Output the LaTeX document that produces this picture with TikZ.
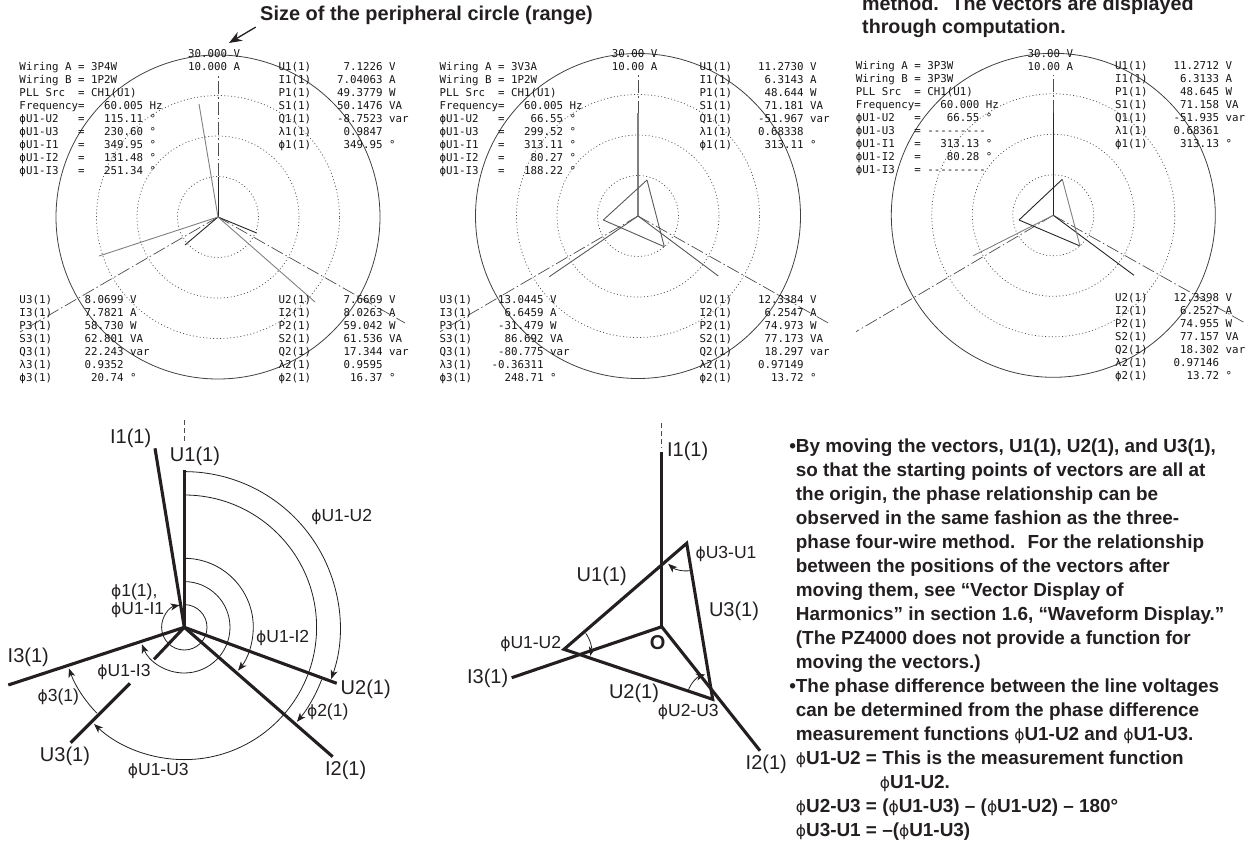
\documentclass[tikz,border=0pt]{standalone}
\usepackage{fontspec}
\usepackage{xcolor}
\setmainfont{Liberation Sans}
\newfontfamily\dispfont{DejaVu Sans Mono}
\newfontfamily\phifont{DejaVu Sans}
\newcommand{\ph}{{\phifont\mdseries\fontsize{15.5}{15.5}\selectfont ϕ}}
\definecolor{inkblack}{HTML}{231F20}
\definecolor{dispgray}{HTML}{141414}
\usetikzlibrary{arrows.meta,positioning}

\begin{document}
\begin{tikzpicture}[x=1pt, y=1pt,
  disptext/.style  = {anchor=base west, inner sep=0pt, text=dispgray, yshift=-3.9pt,
                      font=\dispfont\fontsize{10.8}{13}\selectfont},
  biglabel/.style  = {inner sep=0pt, text=inkblack, font=\fontsize{20}{22}\selectfont},
  smalllabel/.style= {inner sep=0pt, text=inkblack, font=\fontsize{17.5}{19}\selectfont},
  notetext/.style  = {anchor=north west, inner sep=0pt, align=left, text=inkblack,
                      font=\bfseries\fontsize{18.9}{24}\selectfont},
  outercirc/.style = {draw=black!75, line width=0.8pt},
  dotcirc/.style   = {draw=black!70, line width=0.7pt, dash pattern=on 1pt off 2.4pt},
  axisline/.style  = {draw=black!70, line width=0.7pt, dash pattern=on 13pt off 3pt on 1.5pt off 3pt},
  darkvec/.style   = {draw=black!85, line width=0.9pt},
  grayvec/.style   = {draw=black!50, line width=0.9pt},
  thickvec/.style  = {draw=inkblack, line width=3.1pt},
  anglearc/.style  = {draw=inkblack, line width=0.8pt},
  anglearr/.style  = {anglearc, -{Stealth[length=9pt,width=7pt,inset=2.5pt]}},
  sizearr/.style   = {draw=inkblack, line width=1.3pt, -{Stealth[length=13pt,width=10pt]}},
]
\useasboundingbox (0,0) rectangle (1250,-843);

%% ── Notes above the panels ───────────────────────────────────────────────────
\node[notetext, anchor=west, font=\bfseries\fontsize{19.95}{22}\selectfont] (sizelabel) at (260,-15)
  {Size of the peripheral circle (range)};
\coordinate (rangetip) at (229,-43);
\draw[sizearr, shorten <=5pt] (sizelabel.south west) -- (rangetip);
\node[notetext, font=\bfseries\fontsize{19.7}{22.6}\selectfont] (compnote) at (862,3.5)
  {method.~ The vectors are displayed\\through computation.};

%% ── Panel A (3P4W)  centre 218,-217 ──────────────────────────────────────────
\coordinate (oA) at (218,-217);
\foreach \rad in {40.5,81,121.5} \draw[dotcirc] (oA) circle[radius=\rad];
\draw[outercirc] (oA) circle[radius=162];
\coordinate (axAn) at (218,-75);
\coordinate (axAr) at (405,-323);
\coordinate (axAl) at (20,-332);
\draw[axisline] (oA) -- (axAn);
\draw[axisline] (oA) -- (axAr);
\draw[axisline] (oA) -- (axAl);
\coordinate (uoneA) at (218,-177);
\coordinate (utwoA) at (256.7,-233);
\coordinate (uthrA) at (185,-245);
\coordinate (ioneA) at (199,-104);
\coordinate (itwoA) at (315,-302);
\coordinate (ithrA) at (99,-256);
\draw[darkvec] (oA) -- (uoneA);
\draw[darkvec] (oA) -- (utwoA);
\draw[darkvec] (oA) -- (uthrA);
\draw[grayvec] (oA) -- (ioneA);
\draw[grayvec] (oA) -- (itwoA);
\draw[grayvec] (oA) -- (ithrA);

\foreach \txt [count=\i] in {30.000~V,10.000~A}
  \node[disptext] (rngA\i) at (188,{-53.6-13*(\i-1)}) {\txt};
\foreach \txt [count=\i] in {Wiring~A~=~3P4W,Wiring~B~=~1P2W,PLL~Src~~=~CH1(U1),
    Frequency=~~~60.005~Hz,ϕU1-U2~~~=~~~115.11~°,ϕU1-U3~~~=~~~230.60~°,
    ϕU1-I1~~~=~~~349.95~°,ϕU1-I2~~~=~~~131.48~°,ϕU1-I3~~~=~~~251.34~°}
  \node[disptext] (setA\i) at (19.3,{-66.7-13*(\i-1)}) {\txt};
\foreach \txt [count=\i] in {U1(1)~~~~~7.1226~V,I1(1)~~~~7.04063~A,P1(1)~~~~49.3779~W,
    S1(1)~~~~50.1476~VA,Q1(1)~~~~-8.7523~var,λ1(1)~~~~~0.9847,ϕ1(1)~~~~~349.95~°}
  \node[disptext] (oneA\i) at (278.3,{-66.7-13*(\i-1)}) {\txt};
\foreach \txt [count=\i] in {U3(1)~~~~~8.0699~V,I3(1)~~~~~7.7821~A,P3(1)~~~~~58.730~W,
    S3(1)~~~~~62.801~VA,Q3(1)~~~~~22.243~var,λ3(1)~~~~~0.9352,ϕ3(1)~~~~~~20.74~°}
  \node[disptext] (thrA\i) at (19.3,{-300-13*(\i-1)}) {\txt};
\foreach \txt [count=\i] in {U2(1)~~~~~7.6669~V,I2(1)~~~~~8.0263~A,P2(1)~~~~~59.042~W,
    S2(1)~~~~~61.536~VA,Q2(1)~~~~~17.344~var,λ2(1)~~~~~0.9595,ϕ2(1)~~~~~~16.37~°}
  \node[disptext] (twoA\i) at (278.3,{-300-13*(\i-1)}) {\txt};

%% ── Panel B (3V3A)  centre 638,-216 ──────────────────────────────────────────
\coordinate (oB) at (638,-216);
\foreach \rad in {40.5,81,121.5} \draw[dotcirc] (oB) circle[radius=\rad];
\draw[outercirc] (oB) circle[radius=162.5];
\coordinate (axBn) at (638,-75);
\coordinate (axBr) at (828.3,-323);
\coordinate (axBl) at (440,-331.7);
\draw[axisline] (oB) -- (axBn);
\draw[axisline] (oB) -- (axBr);
\draw[axisline] (oB) -- (axBl);
\coordinate (ioneB) at (638,-113);
\coordinate (itwoB) at (718.3,-276);
\coordinate (ithrB) at (549.3,-276.7);
\coordinate (triBa) at (647,-180);
\coordinate (triBb) at (664.3,-246.7);
\coordinate (triBc) at (603.3,-220);
\draw[grayvec, line width=1.1pt] (oB) -- (ioneB);
\draw[darkvec, draw=black!65] (oB) -- (itwoB);
\draw[darkvec, draw=black!65] (oB) -- (ithrB);
\draw[darkvec, draw=black!65] (triBa) -- (triBc);
\draw[darkvec, draw=black!65] (triBc) -- (triBb);
\draw[darkvec, draw=black!65] (triBb) -- (triBa);

\foreach \txt [count=\i] in {30.00~V,10.00~A}
  \node[disptext] (rngB\i) at (611.7,{-54-13*(\i-1)}) {\txt};
\foreach \txt [count=\i] in {Wiring~A~=~3V3A,Wiring~B~=~1P2W,PLL~Src~~=~CH1(U1),
    Frequency=~~~60.005~Hz,ϕU1-U2~~~=~~~~66.55~°,ϕU1-U3~~~=~~~299.52~°,
    ϕU1-I1~~~=~~~313.11~°,ϕU1-I2~~~=~~~~80.27~°,ϕU1-I3~~~=~~~188.22~°}
  \node[disptext] (setB\i) at (439.3,{-66.2-13*(\i-1)}) {\txt};
\foreach \txt [count=\i] in {U1(1)~~~~11.2730~V,I1(1)~~~~~6.3143~A,P1(1)~~~~~48.644~W,
    S1(1)~~~~~71.181~VA,Q1(1)~~~~-51.967~var,λ1(1)~~~~0.68338,ϕ1(1)~~~~~313.11~°}
  \node[disptext] (oneB\i) at (699.3,{-66.2-13*(\i-1)}) {\txt};
\foreach \txt [count=\i] in {U3(1)~~~~13.0445~V,I3(1)~~~~~6.6459~A,P3(1)~~~~-31.479~W,
    S3(1)~~~~~86.692~VA,Q3(1)~~~~-80.775~var,λ3(1)~~~-0.36311,ϕ3(1)~~~~~248.71~°}
  \node[disptext] (thrB\i) at (439.3,{-299.3-13*(\i-1)}) {\txt};
\foreach \txt [count=\i] in {U2(1)~~~~12.3384~V,I2(1)~~~~~6.2547~A,P2(1)~~~~~74.973~W,
    S2(1)~~~~~77.173~VA,Q2(1)~~~~~18.297~var,λ2(1)~~~~0.97149,ϕ2(1)~~~~~~13.72~°}
  \node[disptext] (twoB\i) at (699.3,{-299.3-13*(\i-1)}) {\txt};

%% ── Panel C (3P3W)  centre 1053.3,-215.3 ─────────────────────────────────────
\coordinate (oC) at (1053.3,-215.3);
\foreach \rad in {40.5,81,121.5} \draw[dotcirc] (oC) circle[radius=\rad];
\draw[outercirc] (oC) circle[radius=162];
\coordinate (axCn) at (1053.3,-75);
\coordinate (axCr) at (1245,-323);
\coordinate (axCl) at (856,-331.7);
\draw[axisline] (oC) -- (axCn);
\draw[axisline] (oC) -- (axCr);
\draw[axisline] (oC) -- (axCl);
\coordinate (ioneC) at (1053.3,-113);
\coordinate (itwoC) at (1134,-275.3);
\coordinate (ithrC) at (973.3,-255.7);
\coordinate (triCa) at (1062.3,-179.3);
\coordinate (triCb) at (1080,-246);
\coordinate (triCc) at (1019,-220);
\draw[darkvec] (oC) -- (ioneC);
\draw[darkvec] (oC) -- (itwoC);
\draw[grayvec] (oC) -- (ithrC);
\draw[darkvec] (triCa) -- (triCc);
\draw[darkvec] (triCc) -- (triCb);
\draw[grayvec] (triCb) -- (triCa);

\foreach \txt [count=\i] in {30.00~V,10.00~A}
  \node[disptext] (rngC\i) at (1027.3,{-53.6-13*(\i-1)}) {\txt};
\foreach \txt [count=\i] in {Wiring~A~=~3P3W,Wiring~B~=~3P3W,PLL~Src~~=~CH1(U1),
    Frequency=~~~60.000~Hz,ϕU1-U2~~~=~~~~66.55~°,ϕU1-U3~~~=~---------,
    ϕU1-I1~~~=~~~313.13~°,ϕU1-I2~~~=~~~~80.28~°,ϕU1-I3~~~=~---------}
  \node[disptext] (setC\i) at (855.7,{-65.7-13*(\i-1)}) {\txt};
\foreach \txt [count=\i] in {U1(1)~~~~11.2712~V,I1(1)~~~~~6.3133~A,P1(1)~~~~~48.645~W,
    S1(1)~~~~~71.158~VA,Q1(1)~~~~-51.935~var,λ1(1)~~~~0.68361,ϕ1(1)~~~~~313.13~°}
  \node[disptext] (oneC\i) at (1115,{-65.7-13*(\i-1)}) {\txt};
\foreach \txt [count=\i] in {U2(1)~~~~12.3398~V,I2(1)~~~~~6.2527~A,P2(1)~~~~~74.955~W,
    S2(1)~~~~~77.157~VA,Q2(1)~~~~~18.302~var,λ2(1)~~~~0.97146,ϕ2(1)~~~~~~13.72~°}
  \node[disptext] (twoC\i) at (1115,{-297.7-13*(\i-1)}) {\txt};

%% ── Lower left: vectors and angles ───────────────────────────────────────────
\coordinate (oL) at (184.3,-627.3);
\coordinate (axLa) at (184.3,-420);
\coordinate (axLb) at (184.3,-444);
\draw[axisline, dash pattern=on 5pt off 3pt] (axLa) -- (axLb);
\coordinate (uoneL) at (184.3,-470);
\coordinate (ioneL) at (155,-448.3);
\coordinate (ithrL) at (8.3,-685);
\coordinate (uthrLa) at (154,-659.3);
\coordinate (uthrLb) at (130,-683.3);
\coordinate (uthrLc) at (70.7,-742.7);
\coordinate (utwoL) at (336.7,-683.3);
\coordinate (itwoL) at (332.7,-756.7);
\draw[thickvec] (oL) -- (uoneL);
\draw[thickvec] (oL) -- (ioneL);
\draw[thickvec] (oL) -- (ithrL);
\draw[thickvec] (oL) -- (uthrLa);
\draw[thickvec] (uthrLb) -- (uthrLc);
\draw[thickvec] (oL) -- (utwoL);
\draw[thickvec] (oL) -- (itwoL);

\draw[anglearr] ([shift={(90:155.7)}]oL) arc[start angle=90, end angle=-19.4, radius=155.7];
\draw[anglearr] ([shift={(90:132.3)}]oL) arc[start angle=90, end angle=-133, radius=132.3];
\draw[anglearr] ([shift={(90:69)}]oL) arc[start angle=90, end angle=-38.8, radius=69];
\draw[anglearr] ([shift={(90:45.7)}]oL) arc[start angle=90, end angle=-158.2, radius=45.7];
\draw[anglearr] ([shift={(90:22.7)}]oL) arc[start angle=90, end angle=-258, radius=22.7];
\draw[anglearr] ([shift={(-20.8:147)}]oL) arc[start angle=-20.8, end angle=-40, radius=147];
\draw[anglearr] ([shift={(224.4:122.5)}]oL) arc[start angle=224.4, end angle=199.6, radius=122.5];

\node[biglabel] (ioneLt) at (130.7,-438.3) {I1(1)};
\node[biglabel] (uoneLt) at (195,-456.7) {U1(1)};
\node[biglabel] (ithrLt) at (28.3,-657.3) {I3(1)};
\node[biglabel] (utwoLt) at (365.7,-689.3) {U2(1)};
\node[biglabel] (uthrLt) at (65,-756) {U3(1)};
\node[biglabel] (itwoLt) at (345.7,-770) {I2(1)};
\node[smalllabel] (aotLt) at (341.7,-517.3) {\ph U1-U2};
\node[smalllabel] (aiwLt) at (282.7,-638.3) {\ph U1-I2};
\node[smalllabel, anchor=west] (aoneLt) at (111,-591.7) {\ph 1(1),};
\node[smalllabel, anchor=west] (aioLt) at (111,-610) {\ph U1-I1};
\node[smalllabel] (aitLt) at (124,-671.7) {\ph U1-I3};
\node[smalllabel] (athrLt) at (58.3,-696.7) {\ph 3(1)};
\node[smalllabel] (atwoLt) at (327.7,-712.3) {\ph 2(1)};
\node[smalllabel] (authLt) at (158.3,-770.7) {\ph U1-U3};

%% ── Lower middle: line voltages as a triangle ────────────────────────────────
\coordinate (oM) at (661.7,-626.7);
\coordinate (axMa) at (661.7,-423.3);
\coordinate (axMb) at (661.7,-448);
\draw[axisline, dash pattern=on 5pt off 3pt] (axMa) -- (axMb);
\coordinate (ioneM) at (661.7,-451.7);
\coordinate (ithrM) at (511.7,-677.7);
\coordinate (itwoM) at (760,-750.7);
\coordinate (triMa) at (686.7,-543.3);
\coordinate (triMb) at (712.7,-699.3);
\coordinate (triMc) at (564,-649.3);
\draw[thickvec] (oM) -- (ioneM);
\draw[thickvec] (oM) -- (ithrM);
\draw[thickvec] (oM) -- (itwoM);
\draw[thickvec, line join=miter] (triMa) -- (triMc) -- (triMb) -- cycle;

\draw[anglearr] ([shift={(-81.7:27.6)}]triMa) arc[start angle=-81.7, end angle=-132, radius=27.6];
\draw[anglearr] ([shift={(36.4:27)}]triMc) arc[start angle=36.4, end angle=-14, radius=27];
\draw[anglearr] ([shift={(160.4:26)}]triMb) arc[start angle=160.4, end angle=107, radius=26];

\node[biglabel] (ioneMt) at (687.7,-451.7) {I1(1)};
\node[biglabel] (uoneMt) at (601.7,-576) {U1(1)};
\node[biglabel] (uthrMt) at (734,-611.7) {U3(1)};
\node[biglabel] (ithrMt) at (487.7,-678.3) {I3(1)};
\node[biglabel] (utwoMt) at (634,-693.3) {U2(1)};
\node[biglabel] (itwoMt) at (766.3,-764) {I2(1)};
\node[biglabel, font=\bfseries\fontsize{20}{22}\selectfont] (oMt) at (657.7,-642.7) {O};
\node[smalllabel] (atoMt) at (726,-554.3) {\ph U3-U1};
\node[smalllabel] (aotMt) at (530.7,-644) {\ph U1-U2};
\node[smalllabel] (atuMt) at (688.3,-712.3) {\ph U2-U3};

%% ── Lower right: notes ───────────────────────────────────────────────────────
\node[notetext] (notes) at (795.7,-438.5)
  {\llap{•}By moving the vectors, U1(1), U2(1), and U3(1),\\
   so that the starting points of vectors are all at\\
   the origin, the phase relationship can be\\
   observed in the same fashion as the three-\\
   phase four-wire method.~ For the relationship\\
   between the positions of the vectors after\\
   moving them, see “Vector Display of\\
   Harmonics” in section 1.6, “Waveform Display.”\\
   (The PZ4000 does not provide a function for\\
   moving the vectors.)\\
   \llap{•}The phase difference between the line voltages\\
   can be determined from the phase difference\\
   measurement functions \ph U1-U2 and \ph U1-U3.\\
   \ph U1-U2 = This is the measurement function\\
   \hspace*{84pt}\ph U1-U2.\\
   \ph U2-U3 = (\ph U1-U3) – (\ph U1-U2) – 180°\\
   \ph U3-U1 = –(\ph U1-U3)};

\end{tikzpicture}
\end{document}
